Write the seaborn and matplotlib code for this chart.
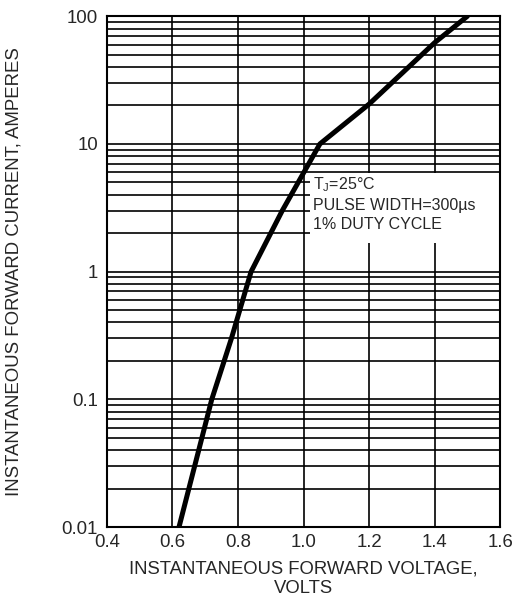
import numpy as np
import pandas as pd
import matplotlib
matplotlib.use("Agg")
import matplotlib.pyplot as plt
import seaborn as sns

# forward characteristic
voltage = [0.62, 0.72, 0.78, 0.84, 0.935, 1.05, 1.20, 1.40, 1.50]
current = [0.01, 0.10, 0.30, 1.00, 3.0, 10.0, 20.5, 62.0, 100.0]

x_ticks = [0.4, 0.6, 0.8, 1.0, 1.2, 1.4, 1.6]
x_tick_labels = ["0.4", "0.6", "0.8", "1.0", "1.2", "1.4", "1.6"]
y_ticks = [0.01, 0.1, 1, 10, 100]
y_tick_labels = ["0.01", "0.1", "1", "10", "100"]

sns.set_style("white")
plt.rcParams['font.family'] = ['Liberation Sans', 'DejaVu Sans']

df = pd.DataFrame({'Voltage': voltage, 'Current': current})

fig = plt.figure(figsize=(5.14, 6.01), dpi=100)
ax = fig.add_axes([0.208, 0.123, 0.765, 0.850])

ax.set_yscale('log')
ax.set_xlim(0.4, 1.6)
ax.set_ylim(0.01, 100)

# grid: decade and 2..9 lines, verticals at every tick
for dec in [0.01, 0.1, 1, 10]:
    for m in range(1, 10):
        ax.axhline(dec * m, color='black', lw=1.2, zorder=1)
for xv in x_ticks[1:-1]:
    ax.axvline(xv, color='black', lw=1.2, zorder=1)

# white panel behind the test conditions
ax.fill_between([1.02, 1.6], 1.67, 5.9, color='white', lw=0, zorder=2)

sns.lineplot(data=df, x='Voltage', y='Current', color='black', lw=3.6, ax=ax, zorder=3)

ax.text(1.029, 5.7, "T$_\\mathregular{J}$=25°C\nPULSE WIDTH=300µs\n1% DUTY CYCLE",
        fontsize=11.5, va='top', ha='left', linespacing=1.36, zorder=4)

ax.set_xticks(x_ticks)
ax.set_xticklabels(x_tick_labels)
ax.set_yticks(y_ticks)
ax.set_yticklabels(y_tick_labels)
ax.minorticks_off()
ax.tick_params(axis='both', length=0, labelsize=13.4)
ax.tick_params(axis='y', pad=6.5)
ax.tick_params(axis='x', pad=5)

ax.set_xlabel("INSTANTANEOUS FORWARD VOLTAGE,\nVOLTS", fontsize=13.3, linespacing=1.2, labelpad=7)
ax.set_ylabel("INSTANTANEOUS FORWARD CURRENT, AMPERES", fontsize=13.4, labelpad=28)

for s in ax.spines.values():
    s.set_color('black')
    s.set_linewidth(1.5)

fig.savefig('out.png', dpi=100)
